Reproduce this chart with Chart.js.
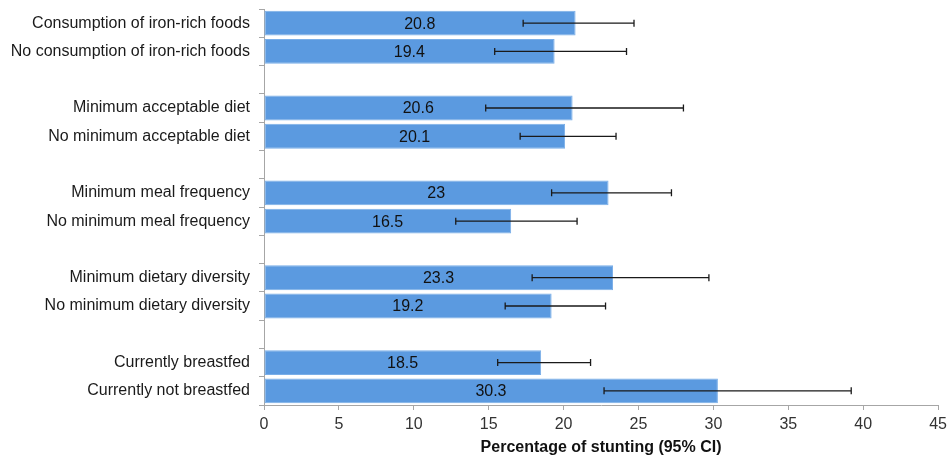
<!DOCTYPE html>
<html lang="en">
<head>
  <meta charset="UTF-8">
  <title>Percentage of stunting by feeding practice</title>
  <style>
    body {
      margin: 0;
      background-color: #ffffff;
    }

    #chart-box {
      width: 952px;
      height: 462px;
    }
  </style>
</head>
<body>

  <div id="chart-box">
    <canvas id="stuntingChart"></canvas>
  </div>

  <script src="https://cdn.jsdelivr.net/npm/chart.js"></script>

  <script>
    // Rows top to bottom; empty strings are spacer rows between groups
    const categories = [
      'Consumption of iron-rich foods',
      'No consumption of iron-rich foods',
      '',
      'Minimum acceptable diet',
      'No minimum acceptable diet',
      '',
      'Minimum meal frequency',
      'No minimum meal frequency',
      '',
      'Minimum dietary diversity',
      'No minimum dietary diversity',
      '',
      'Currently breastfed',
      'Currently not breastfed'
    ];

    const stunting = [20.8, 19.4, null, 20.6, 20.1, null, 23, 16.5, null, 23.3, 19.2, null, 18.5, 30.3];
    const ciLower  = [17.3, 15.4, null, 14.8, 17.1, null, 19.2, 12.8, null, 17.9, 16.1, null, 15.6, 22.7];
    const ciUpper  = [24.7, 24.2, null, 28.0, 23.5, null, 27.2, 20.9, null, 29.7, 22.8, null, 21.8, 39.2];

    const xTicks = [0, 5, 10, 15, 20, 25, 30, 35, 40, 45];

    const FONT = "'Liberation Sans', Arial, sans-serif";

    // Draws the 95% CI whiskers and the value printed in the middle of each bar
    const barExtras = {
      id: 'barExtras',
      afterDatasetsDraw(chart) {
        const ctx = chart.ctx;
        const xScale = chart.scales.x;
        const meta = chart.getDatasetMeta(0);
        const zeroX = xScale.getPixelForValue(0);

        ctx.save();
        meta.data.forEach((bar, i) => {
          const v = stunting[i];
          if (v === null) return;
          const y = bar.y;

          // value label
          ctx.fillStyle = '#111111';
          ctx.font = '16px ' + FONT;
          ctx.textAlign = 'center';
          ctx.textBaseline = 'middle';
          ctx.fillText(String(v), (zeroX + bar.x) / 2, y + 1);

          // error bar
          const x1 = xScale.getPixelForValue(ciLower[i]);
          const x2 = xScale.getPixelForValue(ciUpper[i]);
          ctx.strokeStyle = '#1a1a1a';
          ctx.lineWidth = 1.3;
          ctx.beginPath();
          ctx.moveTo(x1, y);
          ctx.lineTo(x2, y);
          ctx.moveTo(x1, y - 3.5);
          ctx.lineTo(x1, y + 3.5);
          ctx.moveTo(x2, y - 3.5);
          ctx.lineTo(x2, y + 3.5);
          ctx.stroke();
        });
        ctx.restore();
      }
    };

    const ctx = document.getElementById('stuntingChart').getContext('2d');
    new Chart(ctx, {
      type: 'bar',
      data: {
        labels: categories,
        datasets: [{
          data: stunting,
          backgroundColor: '#5b9ae0',
          borderColor: '#79aee8',
          borderWidth: 1,
          borderSkipped: false,
          barPercentage: 0.88,
          categoryPercentage: 1.0
        }]
      },
      options: {
        indexAxis: 'y',
        responsive: true,
        maintainAspectRatio: false,
        animation: false,
        layout: {
          padding: { top: 9, right: 13, left: 0, bottom: 0 }
        },
        plugins: {
          legend: { display: false },
          tooltip: { enabled: false }
        },
        scales: {
          x: {
            min: 0,
            max: 45,
            afterBuildTicks: (scale) => {
              scale.ticks = xTicks.map(v => ({ value: v }));
            },
            afterFit: (scale) => { scale.height = 57; },
            grid: {
              drawOnChartArea: false,
              drawTicks: true,
              tickLength: 5,
              color: '#a6a6a6'
            },
            border: { color: '#a6a6a6', width: 1 },
            ticks: {
              color: '#333333',
              padding: 5,
              maxRotation: 0,
              font: { family: FONT, size: 16 }
            },
            title: {
              display: true,
              text: 'Percentage of stunting (95% CI)',
              color: '#111111',
              padding: { top: 0, bottom: 5 },
              font: { family: FONT, size: 16, weight: 'bold' }
            }
          },
          y: {
            afterFit: (scale) => {
              scale.width = 264;
              scale.paddingTop = 0;
              scale.paddingBottom = 0;
            },
            grid: {
              offset: true,
              drawOnChartArea: false,
              drawTicks: true,
              tickLength: 5,
              color: '#a6a6a6'
            },
            border: { color: '#a6a6a6', width: 1 },
            ticks: {
              color: '#1a1a1a',
              padding: 9,
              autoSkip: false,
              font: { family: FONT, size: 16 }
            }
          }
        }
      },
      plugins: [barExtras]
    });
  </script>

</body>
</html>
